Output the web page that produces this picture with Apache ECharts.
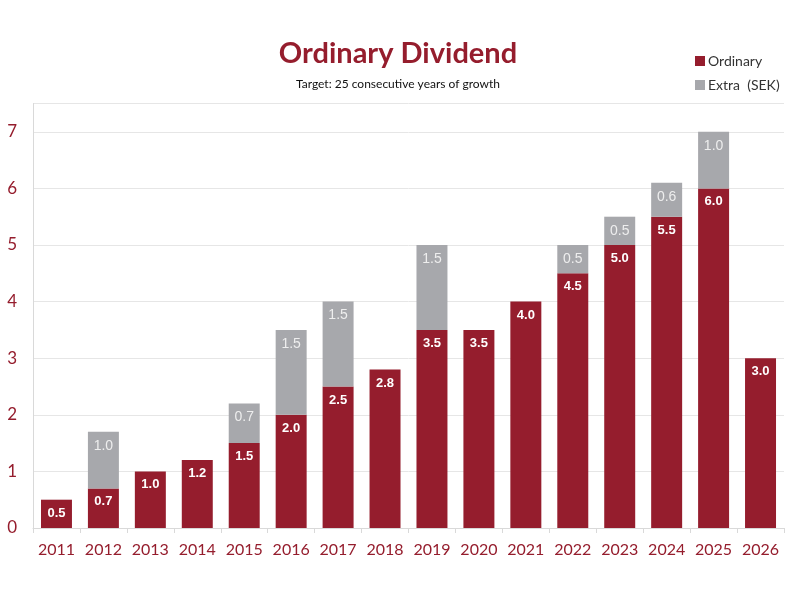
<!DOCTYPE html>
<html>
<head>
<meta charset="utf-8">
<script src="https://cdn.jsdelivr.net/npm/echarts@6/dist/echarts.min.js"></script>
<style>
  html, body { margin: 0; padding: 0; background: #fff; }
  #chart { width: 795px; height: 589px; }
</style>
</head>
<body>
<div id="chart"></div>
<script>
const years = ['2011', '2012', '2013', '2014', '2015', '2016', '2017', '2018',
  '2019', '2020', '2021', '2022', '2023', '2024', '2025', '2026'];
const ordinary = [0.5, 0.7, 1.0, 1.2, 1.5, 2.0, 2.5, 2.8, 3.5, 3.5, 4.0, 4.5, 5.0, 5.5, 6.0, 3.0];
const extra = [null, 1.0, null, null, 0.7, 1.5, 1.5, null, 1.5, null, null, 0.5, 0.5, 0.6, 1.0, null];
const yTicks = [0, 1, 2, 3, 4, 5, 6, 7];

const red = '#951d2d';
const grey = '#a7a8ac';
const font = 'Lato, "Open Sans", sans-serif';

const chart = echarts.init(document.getElementById('chart'));

chart.setOption({
  animation: false,
  title: [{
    text: 'Ordinary Dividend',
    left: 393, top: 34, textAlign: 'center',
    textStyle: { color: red, fontSize: 29, fontWeight: 'bold', fontFamily: font }
  }, {
    text: 'Target: 25 consecutive years of growth',
    left: 393, top: 73, textAlign: 'center',
    textStyle: { color: '#111', fontSize: 12, fontWeight: 'normal', fontFamily: font }
  }],
  legend: {
    orient: 'vertical',
    left: 690, top: 49,
    itemWidth: 10, itemHeight: 10, itemGap: 10,
    icon: 'rect',
    textStyle: { color: '#333', fontSize: 14, fontFamily: font, padding: [0, 0, 0, -2] },
    data: ['Ordinary', 'Extra  (SEK)']
  },
  grid: { left: 33, right: 11, top: 103.5, bottom: 61, containLabel: false },
  xAxis: {
    type: 'category',
    data: years,
    axisLine: { lineStyle: { color: '#d9d9d9' } },
    axisTick: { show: true, alignWithLabel: false, lineStyle: { color: '#d9d9d9' }, length: 5 },
    axisLabel: { color: red, fontSize: 16, fontFamily: font, margin: 14, interval: 0 }
  },
  yAxis: {
    type: 'value',
    min: 0, max: 7.5, interval: 1,
    axisLine: { show: true, lineStyle: { color: '#d9d9d9' } },
    axisTick: { show: false },
    splitLine: { lineStyle: { color: '#e6e6e6' } },
    axisLabel: {
      color: red, fontSize: 17, fontFamily: font, margin: 16,
      formatter: v => yTicks.includes(v) ? String(v) : ''
    }
  },
  series: [{
    name: 'Ordinary',
    type: 'bar',
    stack: 'div',
    barWidth: '66%',
    itemStyle: { color: red },
    label: {
      show: true, position: 'insideTop', distance: 7,
      color: '#fff', fontWeight: 'bold', fontSize: 13, fontFamily: 'Liberation Sans, Arial, sans-serif',
      formatter: p => p.value.toFixed(1)
    },
    data: ordinary
  }, {
    name: 'Extra  (SEK)',
    type: 'bar',
    stack: 'div',
    barWidth: '66%',
    itemStyle: { color: grey },
    label: {
      show: true, position: 'insideTop', distance: 7,
      color: '#eeeeee', fontSize: 14, fontFamily: 'Liberation Sans, Arial, sans-serif',
      formatter: p => p.value == null ? '' : p.value.toFixed(1)
    },
    data: extra
  }]
});
</script>
</body>
</html>
